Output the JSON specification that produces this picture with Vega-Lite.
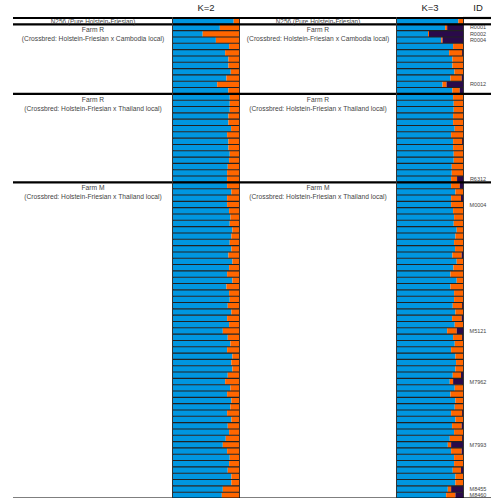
{
  "$schema": "https://vega.github.io/schema/vega-lite/v6.json",
  "padding": {"left": 11, "top": 2, "right": 0, "bottom": 0},
  "background": "white",
  "bounds": "flush",
  "spacing": 0,
  "config": {
    "view": {"stroke": null},
    "font": "Liberation Sans",
    "title": {"fontSize": 9.5, "fontWeight": "normal", "color": "#222", "offset": 4, "font": "Liberation Sans"}
  },
  "resolve": {"scale": {"y": "shared", "color": "shared"}},
  "datasets": {
    "grp": [
      {"first": 1, "line1": "N256 (Pure Holstein-Friesian)"},
      {"first": 2, "line1": "Farm R", "line2": "(Crossbred: Holstein-Friesian x Cambodia local)"},
      {"first": 13, "line1": "Farm R", "line2": "(Crossbred: Holstein-Friesian x Thailand local)"},
      {"first": 27, "line1": "Farm M", "line2": "(Crossbred: Holstein-Friesian x Thailand local)"}
    ],
    "ind": [
      {"n": 1, "b2": 0.92, "o2": 0.08, "b3": 0.93, "o3": 0.07, "p3": 0},
      {"n": 2, "b2": 0.71, "o2": 0.29, "b3": 0.73, "o3": 0.03, "p3": 0.24, "id": "R0001"},
      {"n": 3, "b2": 0.45, "o2": 0.55, "b3": 0.47, "o3": 0.015, "p3": 0.515, "id": "R0002"},
      {"n": 4, "b2": 0.65, "o2": 0.35, "b3": 0.67, "o3": 0.02, "p3": 0.31, "id": "R0004"},
      {"n": 5, "b2": 0.85, "o2": 0.15, "b3": 0.85, "o3": 0.15, "p3": 0},
      {"n": 6, "b2": 0.79, "o2": 0.21, "b3": 0.79, "o3": 0.2, "p3": 0.01},
      {"n": 7, "b2": 0.84, "o2": 0.16, "b3": 0.84, "o3": 0.16, "p3": 0},
      {"n": 8, "b2": 0.84, "o2": 0.16, "b3": 0.84, "o3": 0.16, "p3": 0},
      {"n": 9, "b2": 0.875, "o2": 0.125, "b3": 0.87, "o3": 0.13, "p3": 0},
      {"n": 10, "b2": 0.81, "o2": 0.19, "b3": 0.81, "o3": 0.17, "p3": 0.02},
      {"n": 11, "b2": 0.67, "o2": 0.33, "b3": 0.69, "o3": 0.06, "p3": 0.25, "id": "R0012"},
      {"n": 12, "b2": 0.84, "o2": 0.16, "b3": 0.84, "o3": 0.11, "p3": 0.05},
      {"n": 13, "b2": 0.86, "o2": 0.14, "b3": 0.85, "o3": 0.15, "p3": 0},
      {"n": 14, "b2": 0.86, "o2": 0.14, "b3": 0.86, "o3": 0.14, "p3": 0},
      {"n": 15, "b2": 0.86, "o2": 0.14, "b3": 0.86, "o3": 0.14, "p3": 0},
      {"n": 16, "b2": 0.84, "o2": 0.16, "b3": 0.85, "o3": 0.15, "p3": 0},
      {"n": 17, "b2": 0.84, "o2": 0.16, "b3": 0.85, "o3": 0.15, "p3": 0},
      {"n": 18, "b2": 0.88, "o2": 0.12, "b3": 0.875, "o3": 0.125, "p3": 0},
      {"n": 19, "b2": 0.82, "o2": 0.18, "b3": 0.82, "o3": 0.18, "p3": 0},
      {"n": 20, "b2": 0.84, "o2": 0.16, "b3": 0.85, "o3": 0.14, "p3": 0.01},
      {"n": 21, "b2": 0.84, "o2": 0.16, "b3": 0.85, "o3": 0.15, "p3": 0},
      {"n": 22, "b2": 0.86, "o2": 0.14, "b3": 0.86, "o3": 0.14, "p3": 0},
      {"n": 23, "b2": 0.85, "o2": 0.15, "b3": 0.86, "o3": 0.14, "p3": 0},
      {"n": 24, "b2": 0.83, "o2": 0.17, "b3": 0.83, "o3": 0.17, "p3": 0},
      {"n": 25, "b2": 0.82, "o2": 0.18, "b3": 0.83, "o3": 0.17, "p3": 0},
      {"n": 26, "b2": 0.82, "o2": 0.18, "b3": 0.82, "o3": 0.09, "p3": 0.09, "id": "R6312"},
      {"n": 27, "b2": 0.82, "o2": 0.18, "b3": 0.82, "o3": 0.13, "p3": 0.05},
      {"n": 28, "b2": 0.885, "o2": 0.115, "b3": 0.885, "o3": 0.115, "p3": 0},
      {"n": 29, "b2": 0.82, "o2": 0.18, "b3": 0.82, "o3": 0.15, "p3": 0.03},
      {"n": 30, "b2": 0.82, "o2": 0.18, "b3": 0.82, "o3": 0.18, "p3": 0, "id": "M0004"},
      {"n": 31, "b2": 0.85, "o2": 0.15, "b3": 0.85, "o3": 0.15, "p3": 0},
      {"n": 32, "b2": 0.87, "o2": 0.13, "b3": 0.865, "o3": 0.135, "p3": 0},
      {"n": 33, "b2": 0.86, "o2": 0.14, "b3": 0.86, "o3": 0.14, "p3": 0},
      {"n": 34, "b2": 0.9, "o2": 0.1, "b3": 0.905, "o3": 0.095, "p3": 0},
      {"n": 35, "b2": 0.885, "o2": 0.115, "b3": 0.885, "o3": 0.115, "p3": 0},
      {"n": 36, "b2": 0.86, "o2": 0.14, "b3": 0.865, "o3": 0.135, "p3": 0},
      {"n": 37, "b2": 0.885, "o2": 0.115, "b3": 0.88, "o3": 0.12, "p3": 0},
      {"n": 38, "b2": 0.84, "o2": 0.16, "b3": 0.84, "o3": 0.14, "p3": 0.02},
      {"n": 39, "b2": 0.9, "o2": 0.1, "b3": 0.905, "o3": 0.095, "p3": 0},
      {"n": 40, "b2": 0.85, "o2": 0.15, "b3": 0.855, "o3": 0.145, "p3": 0},
      {"n": 41, "b2": 0.82, "o2": 0.18, "b3": 0.81, "o3": 0.19, "p3": 0},
      {"n": 42, "b2": 0.9, "o2": 0.1, "b3": 0.905, "o3": 0.095, "p3": 0},
      {"n": 43, "b2": 0.81, "o2": 0.19, "b3": 0.81, "o3": 0.19, "p3": 0},
      {"n": 44, "b2": 0.85, "o2": 0.15, "b3": 0.865, "o3": 0.135, "p3": 0},
      {"n": 45, "b2": 0.86, "o2": 0.14, "b3": 0.865, "o3": 0.135, "p3": 0},
      {"n": 46, "b2": 0.83, "o2": 0.17, "b3": 0.845, "o3": 0.145, "p3": 0.01},
      {"n": 47, "b2": 0.885, "o2": 0.115, "b3": 0.885, "o3": 0.115, "p3": 0},
      {"n": 48, "b2": 0.82, "o2": 0.18, "b3": 0.835, "o3": 0.145, "p3": 0.02},
      {"n": 49, "b2": 0.85, "o2": 0.15, "b3": 0.875, "o3": 0.125, "p3": 0},
      {"n": 50, "b2": 0.755, "o2": 0.245, "b3": 0.76, "o3": 0.145, "p3": 0.095, "id": "M5121"},
      {"n": 51, "b2": 0.83, "o2": 0.17, "b3": 0.85, "o3": 0.14, "p3": 0.01},
      {"n": 52, "b2": 0.87, "o2": 0.13, "b3": 0.875, "o3": 0.125, "p3": 0},
      {"n": 53, "b2": 0.82, "o2": 0.18, "b3": 0.82, "o3": 0.18, "p3": 0},
      {"n": 54, "b2": 0.9, "o2": 0.1, "b3": 0.885, "o3": 0.115, "p3": 0},
      {"n": 55, "b2": 0.885, "o2": 0.115, "b3": 0.895, "o3": 0.105, "p3": 0},
      {"n": 56, "b2": 0.9, "o2": 0.1, "b3": 0.885, "o3": 0.115, "p3": 0},
      {"n": 57, "b2": 0.83, "o2": 0.17, "b3": 0.845, "o3": 0.125, "p3": 0.03},
      {"n": 58, "b2": 0.79, "o2": 0.21, "b3": 0.8, "o3": 0.05, "p3": 0.15, "id": "M7962"},
      {"n": 59, "b2": 0.87, "o2": 0.13, "b3": 0.875, "o3": 0.125, "p3": 0},
      {"n": 60, "b2": 0.82, "o2": 0.18, "b3": 0.81, "o3": 0.19, "p3": 0},
      {"n": 61, "b2": 0.885, "o2": 0.115, "b3": 0.885, "o3": 0.115, "p3": 0},
      {"n": 62, "b2": 0.87, "o2": 0.13, "b3": 0.875, "o3": 0.125, "p3": 0},
      {"n": 63, "b2": 0.82, "o2": 0.18, "b3": 0.82, "o3": 0.17, "p3": 0.01},
      {"n": 64, "b2": 0.885, "o2": 0.115, "b3": 0.885, "o3": 0.115, "p3": 0},
      {"n": 65, "b2": 0.83, "o2": 0.17, "b3": 0.835, "o3": 0.145, "p3": 0.02},
      {"n": 66, "b2": 0.85, "o2": 0.15, "b3": 0.865, "o3": 0.135, "p3": 0},
      {"n": 67, "b2": 0.8, "o2": 0.2, "b3": 0.8, "o3": 0.19, "p3": 0.01},
      {"n": 68, "b2": 0.755, "o2": 0.245, "b3": 0.77, "o3": 0.05, "p3": 0.18, "id": "M7993"},
      {"n": 69, "b2": 0.82, "o2": 0.18, "b3": 0.82, "o3": 0.16, "p3": 0.02},
      {"n": 70, "b2": 0.86, "o2": 0.14, "b3": 0.865, "o3": 0.135, "p3": 0},
      {"n": 71, "b2": 0.85, "o2": 0.15, "b3": 0.865, "o3": 0.135, "p3": 0},
      {"n": 72, "b2": 0.83, "o2": 0.17, "b3": 0.845, "o3": 0.125, "p3": 0.03},
      {"n": 73, "b2": 0.885, "o2": 0.115, "b3": 0.885, "o3": 0.115, "p3": 0},
      {"n": 74, "b2": 0.885, "o2": 0.115, "b3": 0.885, "o3": 0.115, "p3": 0},
      {"n": 75, "b2": 0.755, "o2": 0.245, "b3": 0.77, "o3": 0.05, "p3": 0.18, "id": "M8455"},
      {"n": 76, "b2": 0.74, "o2": 0.26, "b3": 0.745, "o3": 0.14, "p3": 0.115, "id": "M8460"}
    ]
  },
  "hconcat": [
    {
      "width": 160, "height": 480.5,
      "layer": [
        {"data": {"name": "grp"}, "mark": {"type": "rule", "color": "black", "strokeWidth": 2.2},
         "encoding": {"y": {"field": "first", "type": "ordinal", "bandPosition": 0, "axis": null, "scale": {"paddingInner": 0, "paddingOuter": 0}}}},
        {"data": {"name": "ind"}, "transform": [{"filter": "datum.n == 76"}], "mark": {"type": "rule", "color": "black", "strokeWidth": 2.2},
         "encoding": {"y": {"field": "n", "type": "ordinal", "bandPosition": 1, "axis": null}}},
        {"data": {"name": "grp"}, "transform": [{"filter": "!isValid(datum.line2)"}], "mark": {"type": "text", "fontSize": 6.4, "color": "#444", "baseline": "middle", "align": "center", "dy": 0.5},
         "encoding": {"y": {"field": "first", "type": "ordinal", "axis": null}, "text": {"field": "line1"}}},
        {"data": {"name": "grp"}, "transform": [{"filter": "isValid(datum.line2)"}], "mark": {"type": "text", "fontSize": 6.7, "color": "#444", "baseline": "middle", "align": "center", "dy": 6},
         "encoding": {"y": {"field": "first", "type": "ordinal", "bandPosition": 0, "axis": null}, "text": {"field": "line1"}}},
        {"data": {"name": "grp"}, "transform": [{"filter": "isValid(datum.line2)"}], "mark": {"type": "text", "fontSize": 6.7, "color": "#444", "baseline": "middle", "align": "center", "dy": 15},
         "encoding": {"y": {"field": "first", "type": "ordinal", "bandPosition": 0, "axis": null}, "text": {"field": "line2"}}}
      ]
    },
    {
      "width": 66, "height": 480.5,
      "title": "K=2",
      "view": {"stroke": "#333", "strokeWidth": 2},
      "layer": [
        {"data": {"name": "ind"}, "transform": [{"fold": ["b2", "o2"], "as": ["cluster", "value"]}],
         "mark": {"type": "bar"},
         "encoding": {
           "y": {"field": "n", "type": "ordinal", "axis": null},
           "x": {"field": "value", "type": "quantitative", "stack": "zero", "axis": null, "scale": {"domain": [0, 1], "nice": false}},
           "color": {"field": "cluster", "type": "nominal", "legend": null, "scale": {"domain": ["b2", "o2", "b3", "o3", "p3"], "range": ["#0096E0", "#FF6600", "#0096E0", "#FF6600", "#2A0A4A"]}},
           "order": {"field": "cluster", "sort": "ascending"}
         }},
        {"data": {"name": "ind"}, "mark": {"type": "rule", "color": "#222", "strokeWidth": 1.1},
         "encoding": {"y": {"field": "n", "type": "ordinal", "bandPosition": 0, "axis": null}}},
        {"data": {"name": "grp"}, "mark": {"type": "rule", "color": "black", "strokeWidth": 2.2},
         "encoding": {"y": {"field": "first", "type": "ordinal", "bandPosition": 0, "axis": null}}},
        {"data": {"name": "ind"}, "transform": [{"filter": "datum.n == 76"}], "mark": {"type": "rule", "color": "black", "strokeWidth": 2.2},
         "encoding": {"y": {"field": "n", "type": "ordinal", "bandPosition": 1, "axis": null}}}
      ]
    },
    {
      "width": 158, "height": 480.5,
      "layer": [
        {"data": {"name": "grp"}, "mark": {"type": "rule", "color": "black", "strokeWidth": 2.2},
         "encoding": {"y": {"field": "first", "type": "ordinal", "bandPosition": 0, "axis": null}}},
        {"data": {"name": "ind"}, "transform": [{"filter": "datum.n == 76"}], "mark": {"type": "rule", "color": "black", "strokeWidth": 2.2},
         "encoding": {"y": {"field": "n", "type": "ordinal", "bandPosition": 1, "axis": null}}},
        {"data": {"name": "grp"}, "transform": [{"filter": "!isValid(datum.line2)"}], "mark": {"type": "text", "fontSize": 6.4, "color": "#444", "baseline": "middle", "align": "center", "dy": 0.5},
         "encoding": {"y": {"field": "first", "type": "ordinal", "axis": null}, "text": {"field": "line1"}}},
        {"data": {"name": "grp"}, "transform": [{"filter": "isValid(datum.line2)"}], "mark": {"type": "text", "fontSize": 6.7, "color": "#444", "baseline": "middle", "align": "center", "dy": 6},
         "encoding": {"y": {"field": "first", "type": "ordinal", "bandPosition": 0, "axis": null}, "text": {"field": "line1"}}},
        {"data": {"name": "grp"}, "transform": [{"filter": "isValid(datum.line2)"}], "mark": {"type": "text", "fontSize": 6.7, "color": "#444", "baseline": "middle", "align": "center", "dy": 15},
         "encoding": {"y": {"field": "first", "type": "ordinal", "bandPosition": 0, "axis": null}, "text": {"field": "line2"}}}
      ]
    },
    {
      "width": 66, "height": 480.5,
      "title": "K=3",
      "view": {"stroke": "#333", "strokeWidth": 2},
      "layer": [
        {"data": {"name": "ind"}, "transform": [{"fold": ["b3", "o3", "p3"], "as": ["cluster", "value"]}],
         "mark": {"type": "bar"},
         "encoding": {
           "y": {"field": "n", "type": "ordinal", "axis": null},
           "x": {"field": "value", "type": "quantitative", "stack": "zero", "axis": null, "scale": {"domain": [0, 1], "nice": false}},
           "color": {"field": "cluster", "type": "nominal", "legend": null},
           "order": {"field": "cluster", "sort": "ascending"}
         }},
        {"data": {"name": "ind"}, "mark": {"type": "rule", "color": "#222", "strokeWidth": 1.1},
         "encoding": {"y": {"field": "n", "type": "ordinal", "bandPosition": 0, "axis": null}}},
        {"data": {"name": "grp"}, "mark": {"type": "rule", "color": "black", "strokeWidth": 2.2},
         "encoding": {"y": {"field": "first", "type": "ordinal", "bandPosition": 0, "axis": null}}},
        {"data": {"name": "ind"}, "transform": [{"filter": "datum.n == 76"}], "mark": {"type": "rule", "color": "black", "strokeWidth": 2.2},
         "encoding": {"y": {"field": "n", "type": "ordinal", "bandPosition": 1, "axis": null}}}
      ]
    },
    {
      "width": 30, "height": 480.5,
      "title": "ID",
      "layer": [
        {"data": {"name": "grp"}, "mark": {"type": "rule", "color": "black", "strokeWidth": 2.2},
         "encoding": {"y": {"field": "first", "type": "ordinal", "bandPosition": 0, "axis": null}}},
        {"data": {"name": "ind"}, "transform": [{"filter": "datum.n == 76"}], "mark": {"type": "rule", "color": "black", "strokeWidth": 2.2},
         "encoding": {"y": {"field": "n", "type": "ordinal", "bandPosition": 1, "axis": null}}},
        {"data": {"name": "ind"}, "transform": [{"filter": "isValid(datum.id)"}], "mark": {"type": "text", "fontSize": 5.5, "color": "#444", "baseline": "middle", "align": "center"},
         "encoding": {"y": {"field": "n", "type": "ordinal", "axis": null}, "text": {"field": "id"}}}
      ]
    }
  ]
}
